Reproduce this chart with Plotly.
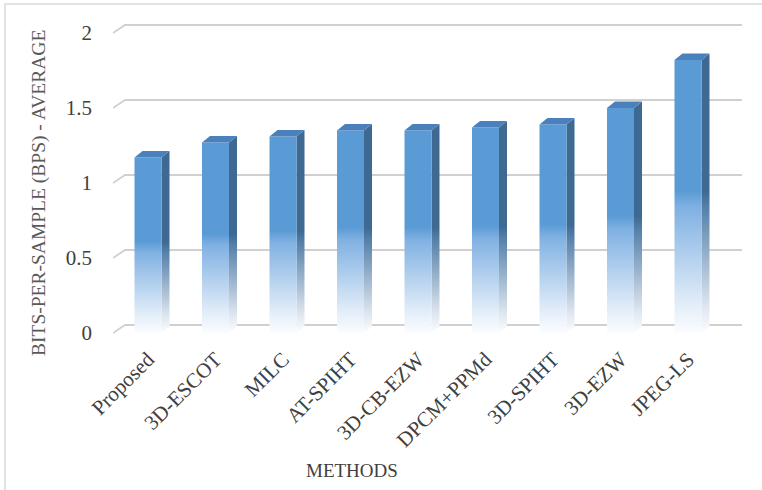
import plotly.graph_objects as go

# Average bits-per-sample for each compression method
methods = ["Proposed", "3D-ESCOT", "MILC", "AT-SPIHT", "3D-CB-EZW",
           "DPCM+PPMd", "3D-SPIHT", "3D-EZW", "JPEG-LS"]
bps = [1.17, 1.27, 1.31, 1.35, 1.35, 1.37, 1.39, 1.50, 1.82]
y_ticks = [0, 0.5, 1, 1.5, 2]
y_ticktext = ["0", "0.5", "1", "1.5", "2"]

# --- geometry of the pseudo-3D drawing (pixels -> axis units) ---
W, H = 762, 490
ML, MR, MT, MB = 113, 20, 20, 150          # plot area margins (px)
FLOOR_PX = 333                             # pixel row of the front floor
PX_PER_CAT = 67.5                          # bar spacing
PX_PER_UNIT = 150.0                        # vertical scale
X0 = -(148 - ML) / PX_PER_CAT              # left edge in category units
X1 = X0 + (W - ML - MR) / PX_PER_CAT
Y0 = -((H - MB) - FLOOR_PX) / PX_PER_UNIT  # front floor sits at y = 0
Y1 = Y0 + (H - MT - MB) / PX_PER_UNIT

HALF = 13.5 / PX_PER_CAT                   # half width of the front face
DX = 8 / PX_PER_CAT                        # bar depth (horizontal)
DY = 6.5 / PX_PER_UNIT                     # bar depth (vertical)
WALL_DX = 12 / PX_PER_CAT                  # floor depth to the back wall
WALL_DY = 8 / PX_PER_UNIT

FONT = "Liberation Serif, Times New Roman, serif"

fig = go.Figure()

# back-wall gridlines with the short slanted side-wall segment
for g in y_ticks:
    fig.add_trace(go.Scatter(
        x=[X0, X0 + WALL_DX, X1], y=[g, g + WALL_DY, g + WALL_DY],
        mode="lines", line=dict(color="#d0d0d0", width=1.8),
        hoverinfo="skip", showlegend=False))

front_scale = [[0.0, "#fbfdff"], [0.1, "#e4eef9"], [0.46, "#80b1e2"],
               [0.52, "#5b9bd5"], [1.0, "#5b9bd5"]]
side_scale = [[0.0, "#fcfdfe"], [0.1, "#dde5ee"], [0.46, "#5580a9"],
              [0.52, "#3e6992"], [1.0, "#3e6992"]]

for i, v in enumerate(bps):
    l, r = i - HALF, i + HALF
    # side face
    fig.add_trace(go.Scatter(
        x=[r, r, r + DX, r + DX, r], y=[0, v, v + DY, DY, 0],
        mode="lines", line=dict(width=0), fill="toself",
        fillgradient=dict(type="vertical", colorscale=side_scale,
                          start=0, stop=v),
        hoverinfo="skip", showlegend=False))
    # front face
    fig.add_trace(go.Scatter(
        x=[l, r, r, l, l], y=[0, 0, v, v, 0],
        mode="lines", line=dict(width=0), fill="toself",
        fillgradient=dict(type="vertical", colorscale=front_scale,
                          start=0, stop=v),
        hoverinfo="text", text=f"{methods[i]}: {v}", showlegend=False))
    # top face
    fig.add_trace(go.Scatter(
        x=[l, r, r + DX, l + DX, l], y=[v, v, v + DY, v + DY, v],
        mode="lines", line=dict(width=0), fill="toself",
        fillcolor="#4a80bc", hoverinfo="skip", showlegend=False))

fig.update_layout(
    width=W, height=H,
    margin=dict(l=ML, r=MR, t=MT, b=MB),
    paper_bgcolor="white", plot_bgcolor="white",
    xaxis=dict(range=[X0, X1], tickmode="array",
               tickvals=list(range(len(methods))), ticktext=methods,
               tickangle=-45, showgrid=False, zeroline=False,
               showline=False, ticks="", ticklabelstandoff=2,
               tickfont=dict(family=FONT, size=21, color="#404040")),
    yaxis=dict(range=[Y0, Y1], tickmode="array", tickvals=y_ticks,
               ticktext=y_ticktext, showgrid=False, zeroline=False,
               showline=False, ticks="", ticklabelstandoff=20,
               tickfont=dict(family=FONT, size=21, color="#404040")),
    annotations=[
        dict(text="BITS-PER-SAMPLE (BPS) - AVERAGE", textangle=-90,
             xref="paper", yref="paper",
             x=(39 - ML) / (W - ML - MR), y=(H - MB - 193) / (H - MT - MB),
             xanchor="center", yanchor="middle", showarrow=False,
             font=dict(family=FONT, size=19.5, color="#595959")),
        dict(text="METHODS", xref="paper", yref="paper",
             x=(352 - ML) / (W - ML - MR), y=(H - MB - 470) / (H - MT - MB),
             xanchor="center", yanchor="middle", showarrow=False,
             font=dict(family=FONT, size=19, color="#404040")),
    ],
    shapes=[dict(type="rect", xref="paper", yref="paper",
                 x0=(5 - ML) / (W - ML - MR), x1=(W + 10 - ML) / (W - ML - MR),
                 y0=(H - MB - (H + 10)) / (H - MT - MB),
                 y1=(H - MB - 4) / (H - MT - MB),
                 line=dict(color="#d9d9d9", width=1.5), layer="below")],
)

fig.write_html("out.html")
